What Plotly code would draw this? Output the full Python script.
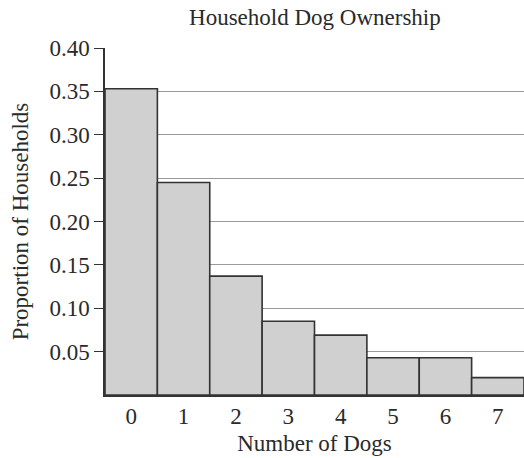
import plotly.graph_objects as go

# Household dog ownership distribution
dogs = [0, 1, 2, 3, 4, 5, 6, 7]
dog_labels = ["0", "1", "2", "3", "4", "5", "6", "7"]
proportions = [0.353, 0.245, 0.137, 0.085, 0.069, 0.043, 0.043, 0.020]
y_ticks = [0.05, 0.10, 0.15, 0.20, 0.25, 0.30, 0.35, 0.40]
y_tick_text = ["0.05", "0.10", "0.15", "0.20", "0.25", "0.30", "0.35", "0.40"]

serif = "Liberation Serif, Times New Roman, serif"
ink = "#2a2a2a"
fs = 23

fig = go.Figure(
    go.Bar(
        x=dogs,
        y=proportions,
        width=1.0,
        marker=dict(color="#d0d0d0", line=dict(color="#333333", width=1.6)),
        hoverinfo="x+y",
    )
)

fig.update_layout(
    width=524,
    height=458,
    margin=dict(l=105, r=0, t=48, b=63),
    paper_bgcolor="white",
    plot_bgcolor="white",
    showlegend=False,
    font=dict(family=serif, size=fs, color=ink),
    title=dict(
        text="Household Dog Ownership",
        x=0.601,
        xanchor="center",
        y=0.962,
        yanchor="middle",
        font=dict(family=serif, size=fs, color=ink),
    ),
)

fig.update_xaxes(
    range=[-0.5, 7.5],
    tickmode="array",
    tickvals=dogs,
    ticktext=dog_labels,
    ticks="",
    showgrid=False,
    showline=True,
    linecolor="#333333",
    linewidth=1.5,
    zeroline=False,
    tickfont=dict(family=serif, size=fs, color=ink),
    title=dict(text="Number of Dogs", font=dict(family=serif, size=fs, color=ink), standoff=7),
)

fig.update_yaxes(
    range=[0, 0.40],
    tickmode="array",
    tickvals=y_ticks,
    ticktext=y_tick_text,
    ticks="outside",
    ticklen=9,
    tickwidth=1.2,
    tickcolor="#333333",
    showgrid=True,
    gridcolor="#9a9a9a",
    gridwidth=1,
    showline=True,
    linecolor="#333333",
    linewidth=1.5,
    zeroline=False,
    tickfont=dict(family=serif, size=fs, color=ink),
    title=dict(text="Proportion of Households", font=dict(family=serif, size=fs, color=ink), standoff=14),
)

fig.write_html("out.html")
